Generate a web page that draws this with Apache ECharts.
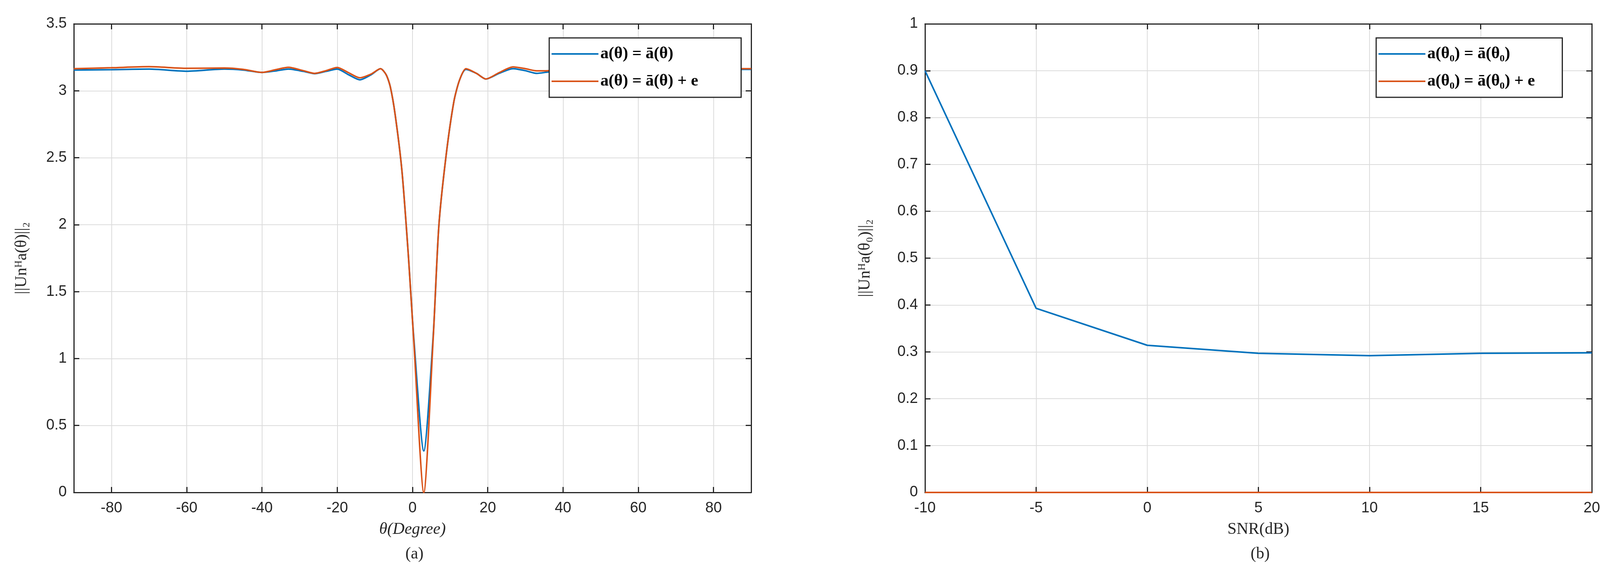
<!DOCTYPE html>
<html>
<head>
<meta charset="utf-8">
<script src="https://cdn.jsdelivr.net/npm/echarts@6/dist/echarts.min.js"></script>
<style>html,body{margin:0;padding:0;background:#fff}#main{width:4122px;height:1461px}</style>
</head>
<body>
<div id="main"></div>
<script>
// (a) spectrum vs angle
var theta = [-90,-80,-70,-60,-50,-45,-40,-36,-33,-29,-26,-23,-20,-17,-14,-11,-8.5,-7,-5.9,-4.6,-2.8,-1.1,0.3,3,5.5,7,8.9,11,12.5,14.2,17,19.5,23,26.7,30,33,36,40,50,60,70,80,90];
var exactA = [3.155,3.158,3.162,3.146,3.162,3.155,3.137,3.15,3.162,3.145,3.128,3.145,3.162,3.12,3.082,3.12,3.165,3.12,3.03,2.82,2.40,1.77,1.17,0.31,1.17,1.99,2.51,2.92,3.08,3.16,3.13,3.088,3.13,3.165,3.15,3.13,3.14,3.15,3.16,3.165,3.16,3.16,3.16];
var errA = [3.165,3.172,3.18,3.168,3.17,3.16,3.137,3.16,3.175,3.15,3.13,3.15,3.174,3.135,3.097,3.125,3.165,3.12,3.03,2.82,2.40,1.77,1.15,0,1.15,1.99,2.51,2.92,3.08,3.165,3.13,3.088,3.135,3.178,3.165,3.149,3.15,3.16,3.165,3.17,3.165,3.165,3.165];
var thetaTicks = [-80,-60,-40,-20,0,20,40,60,80];
// (b) value at true angle vs SNR
var snr = [-10,-5,0,5,10,15,20];
var exactB = [0.9,0.393,0.314,0.297,0.292,0.297,0.298];
var errB = [0,0,0,0,0,0,0];

var blue = '#0072BD', orange = '#D95319';
function pairs(xs, ys){ return xs.map(function(x,i){ return [x, ys[i]]; }); }

var tickFont = {fontFamily:'Liberation Sans', fontSize:38, color:'#262626'};
var gridLine = {show:true, lineStyle:{color:'#dcdcdc', width:2}};
var axLine = {show:true, onZero:false, lineStyle:{color:'#262626', width:3}};
var tick = {show:true, inside:true, length:14, lineStyle:{color:'#262626', width:3}};

function mainX(grid, min, max, interval, name, custom){
  var ax = {type:'value', gridIndex:grid, min:min, max:max, interval:interval,
    axisLine:axLine, axisTick:Object.assign({}, tick), splitLine:gridLine,
    axisLabel:Object.assign({margin:22}, tickFont),
    name:name, nameLocation:'middle', nameGap:74,
    nameTextStyle:{fontFamily:'Liberation Serif', fontSize:42, color:'#262626', fontStyle: grid===0?'italic':'normal'}};
  if (custom) { ax.axisTick.customValues = custom; ax.axisLabel.customValues = custom; }
  return ax;
}
function boxX(grid, min, max, interval, custom){
  var ax = {type:'value', gridIndex:grid, position:'top', min:min, max:max, interval:interval,
    axisLine:axLine, axisTick:Object.assign({}, tick), splitLine:{show:false}, axisLabel:{show:false}};
  if (custom) { ax.axisTick.customValues = custom; }
  return ax;
}
function mainY(grid, min, max, interval, name){
  return {type:'value', gridIndex:grid, min:min, max:max, interval:interval,
    axisLine:axLine, axisTick:tick, splitLine:gridLine,
    axisLabel:Object.assign({margin:18}, tickFont),
    name:name, nameLocation:'middle', nameGap:grid===0?112:132, nameRotate:90,
    nameTextStyle:{fontFamily:'Liberation Serif', fontSize:42, color:'#262626'}};
}
function boxY(grid, min, max, interval){
  return {type:'value', gridIndex:grid, position:'right', min:min, max:max, interval:interval,
    axisLine:axLine, axisTick:tick, splitLine:{show:false}, axisLabel:{show:false}};
}
function line(name, data, color, xi, yi, smooth){
  return {name:name, type:'line', xAxisIndex:xi, yAxisIndex:yi, data:data, showSymbol:false,
    smooth:smooth, lineStyle:{color:color, width:4}, itemStyle:{color:color}, z:3};
}
var legText = {fontFamily:'Liberation Serif', fontSize:42, fontWeight:'bold', color:'#000'};

var option = {
  animation:false,
  backgroundColor:'#fff',
  grid:[
    {left:189, top:61, width:1734, height:1199},
    {left:2368, top:61, width:1707, height:1199}
  ],
  xAxis:[
    mainX(0,-90,90,10,'θ(Degree)', thetaTicks),
    mainX(1,-10,20,5,'SNR(dB)'),
    boxX(0,-90,90,10, thetaTicks),
    boxX(1,-10,20,5)
  ],
  yAxis:[
    mainY(0,0,3.5,0.5,'||Unᴴa(θ)||₂'),
    mainY(1,0,1,0.1,'||Unᴴa(θ₀)||₂'),
    boxY(0,0,3.5,0.5),
    boxY(1,0,1,0.1)
  ],
  legend:[
    {data:['a(θ) = ā(θ)','a(θ) = ā(θ) + e'], orient:'vertical', left:1406, top:97,
      itemWidth:120, itemHeight:4, itemGap:28, padding:[20,110,20,6], backgroundColor:'#fff',
      borderColor:'#262626', borderWidth:3, textStyle:legText, icon:'rect'},
    {data:['a(θ₀) = ā(θ₀)','a(θ₀) = ā(θ₀) + e'], orient:'vertical', left:3523, top:97,
      itemWidth:120, itemHeight:4, itemGap:28, padding:[20,70,20,6], backgroundColor:'#fff',
      borderColor:'#262626', borderWidth:3, textStyle:legText, icon:'rect'}
  ],
  title:[
    {text:'(a)', left:1056, top:1392, textAlign:'center', textStyle:{fontFamily:'Liberation Serif', fontSize:42, fontWeight:'normal', color:'#262626'}},
    {text:'(b)', left:3221, top:1392, textAlign:'center', textStyle:{fontFamily:'Liberation Serif', fontSize:42, fontWeight:'normal', color:'#262626'}}
  ],
  series:[
    line('a(θ) = ā(θ)', pairs(theta, exactA), blue, 0, 0, 0.25),
    line('a(θ) = ā(θ) + e', pairs(theta, errA), orange, 0, 0, 0.25),
    line('a(θ₀) = ā(θ₀)', pairs(snr, exactB), blue, 1, 1, false),
    line('a(θ₀) = ā(θ₀) + e', pairs(snr, errB), orange, 1, 1, false)
  ]
};
var myChart = echarts.init(document.getElementById('main'));
myChart.setOption(option, true);
</script>
</body>
</html>
